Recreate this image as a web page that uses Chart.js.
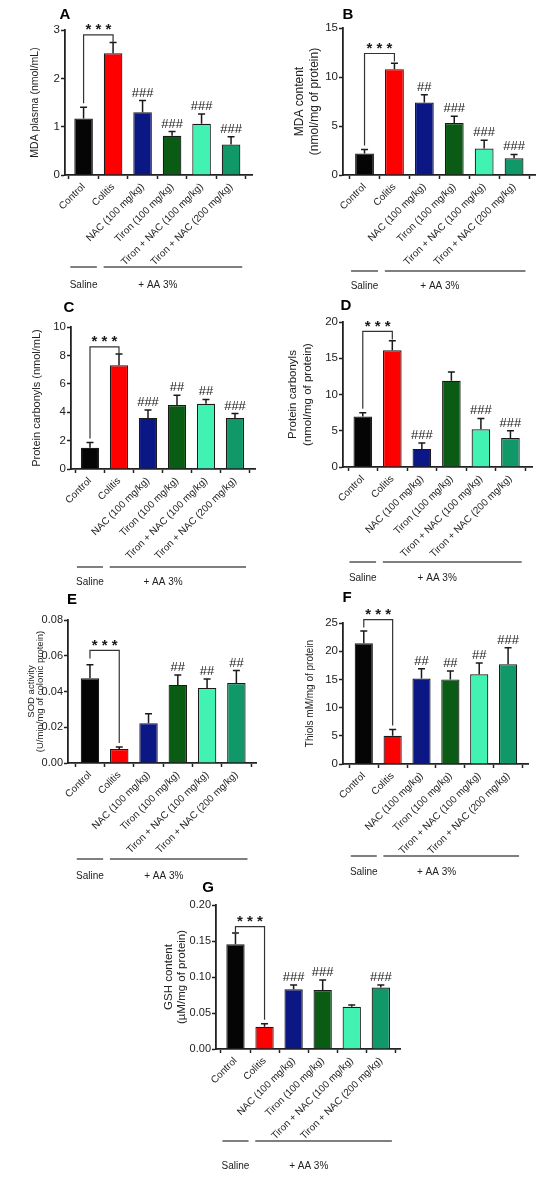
<!DOCTYPE html>
<html><head><meta charset="utf-8">
<script src="https://cdn.jsdelivr.net/npm/chart.js@4.4.1/dist/chart.umd.min.js"></script>
<style>
html,body{margin:0;padding:0;background:#fff;}
body{width:550px;height:1178px;position:relative;overflow:hidden;}
canvas{position:absolute;}
</style></head><body>
<canvas id="cA"></canvas><canvas id="cB"></canvas><canvas id="cC"></canvas><canvas id="cD"></canvas>
<canvas id="cE"></canvas><canvas id="cF"></canvas><canvas id="cG"></canvas>
<script>
const categories = ['Control','Colitis','NAC (100 mg/kg)','Tiron (100 mg/kg)','Tiron + NAC (100 mg/kg)','Tiron + NAC (200 mg/kg)'];
const groupLabels = ['Saline','+ AA 3%'];
const panelLetters = ['A','B','C','D','E','F','G'];

// A: MDA plasma
const mdaPlasmaMean = [1.17, 2.52, 1.30, 0.81, 1.06, 0.63];
const mdaPlasmaSem  = [0.23, 0.22, 0.24, 0.09, 0.20, 0.16];
const mdaPlasmaMarks = ['', '', '###', '###', '###', '###'];
const mdaPlasmaTicks = [0, 1, 2, 3];
const mdaPlasmaBracket = 2.9;

// B: MDA content
const mdaContentMean = [2.2, 10.8, 7.4, 5.3, 2.7, 1.7];
const mdaContentSem  = [0.4, 0.6, 0.8, 0.7, 0.85, 0.4];
const mdaContentMarks = ['', '', '##', '###', '###', '###'];
const mdaContentTicks = [0, 5, 10, 15];
const mdaContentBracket = 12.4;

// C: Protein carbonyls (nmol/mL)
const pcPlasmaMean = [1.5, 7.3, 3.6, 4.5, 4.6, 3.6];
const pcPlasmaSem  = [0.37, 0.8, 0.55, 0.7, 0.3, 0.3];
const pcPlasmaMarks = ['', '', '###', '##', '##', '###'];
const pcPlasmaTicks = [0, 2, 4, 6, 8, 10];
const pcPlasmaBracket = 8.6;

// D: Protein carbonyls (nmol/mg of protein)
const pcTissueMean = [6.95, 16.1, 2.5, 11.9, 5.2, 4.0];
const pcTissueSem  = [0.55, 1.3, 0.8, 1.2, 1.5, 1.0];
const pcTissueMarks = ['', '', '###', '', '###', '###'];
const pcTissueTicks = [0, 5, 10, 15, 20];
const pcTissueBracket = 18.7;

// E: SOD activity
const sodMean = [0.0474, 0.0078, 0.0223, 0.0437, 0.0419, 0.0447];
const sodSem  = [0.0075, 0.0011, 0.0052, 0.0056, 0.0051, 0.0070];
const sodMarks = ['', '', '', '##', '##', '##'];
const sodTicks = [0, 0.02, 0.04, 0.06, 0.08];
const sodBracket = 0.063;

// F: Thiols
const thiolsMean = [21.4, 5.0, 15.15, 15.0, 15.9, 17.7];
const thiolsSem  = [2.2, 1.1, 1.75, 1.5, 2.0, 2.9];
const thiolsMarks = ['', '', '##', '##', '##', '###'];
const thiolsTicks = [0, 5, 10, 15, 20, 25];
const thiolsBracket = 25.6;

// G: GSH content
const gshMean = [0.1455, 0.031, 0.083, 0.082, 0.0587, 0.0855];
const gshSem  = [0.0155, 0.004, 0.006, 0.014, 0.0023, 0.0035];
const gshMarks = ['', '', '###', '###', '', '###'];
const gshTicks = [0, 0.05, 0.10, 0.15, 0.20];
const gshBracket = 0.17;

const barColors = ['#050505', '#ff0000', '#0b1784', '#0a5c14', '#42f2b2', '#119869'];
const FONT = "'Liberation Sans', Arial, sans-serif";

const panels = [
  {id:'cA', letter:panelLetters[0], mean:mdaPlasmaMean, sem:mdaPlasmaSem, marks:mdaPlasmaMarks, ticks:mdaPlasmaTicks, bracket:mdaPlasmaBracket, dec:0,
   title:'MDA plasma (nmol/mL)', tFont:10.5, tLH:1.2, tPad:28.7, tickFont:11.5,
   box:{x:0,y:0,w:275,h:290}, area:{l:65,t:30,r:252,b:175}, xmin:-0.63, xmax:5.71, groupY:267, labelY:285, lx:65, ly:15},
  {id:'cB', letter:panelLetters[1], mean:mdaContentMean, sem:mdaContentSem, marks:mdaContentMarks, ticks:mdaContentTicks, bracket:mdaContentBracket, dec:0,
   title:['MDA content','(nmol/mg of protein)'], tFont:12, tLH:1.25, tPad:17.5, tickFont:11.5,
   box:{x:275,y:0,w:275,h:290}, area:{l:68,t:28,r:260,b:175}, xmin:-0.72, xmax:5.70, groupY:271, labelY:286, lx:73, ly:15},
  {id:'cC', letter:panelLetters[2], mean:pcPlasmaMean, sem:pcPlasmaSem, marks:pcPlasmaMarks, ticks:pcPlasmaTicks, bracket:pcPlasmaBracket, dec:0,
   title:'Protein carbonyls (nmol/mL)', tFont:11, tLH:1.2, tPad:30.4, tickFont:11.5,
   box:{x:0,y:290,w:275,h:300}, area:{l:71,t:37,r:255,b:179}, xmin:-0.655, xmax:5.69, groupY:277, labelY:292, lx:69, ly:18},
  {id:'cD', letter:panelLetters[3], mean:pcTissueMean, sem:pcTissueSem, marks:pcTissueMarks, ticks:pcTissueTicks, bracket:pcTissueBracket, dec:0,
   title:['Protein carbonyls','(nmol/mg of protein)'], tFont:11.5, tLH:1.3, tPad:10.5, tickFont:11.5,
   box:{x:275,y:290,w:275,h:300}, area:{l:68,t:32,r:257,b:177}, xmin:-0.67, xmax:5.73, groupY:272, labelY:288, lx:71, ly:16},
  {id:'cE', letter:panelLetters[4], mean:sodMean, sem:sodSem, marks:sodMarks, ticks:sodTicks, bracket:sodBracket, dec:2,
   title:['SOD activity','(U/min/mg of colonic protein)'], tFont:9.5, tLH:1.0, tPad:26.5, tickFont:11,
   box:{x:0,y:585,w:275,h:300}, area:{l:68,t:35,r:256,b:178}, xmin:-0.75, xmax:5.67, groupY:274, labelY:291, lx:72, ly:15},
  {id:'cF', letter:panelLetters[5], mean:thiolsMean, sem:thiolsSem, marks:thiolsMarks, ticks:thiolsTicks, bracket:thiolsBracket, dec:0,
   title:'Thiols mM/mg of protein', tFont:10, tLH:1.2, tPad:29, tickFont:11.5,
   box:{x:275,y:585,w:275,h:300}, area:{l:68,t:38,r:253,b:179}, xmin:-0.72, xmax:5.69, groupY:271, labelY:287, lx:72, ly:13},
  {id:'cG', letter:panelLetters[6], mean:gshMean, sem:gshSem, marks:gshMarks, ticks:gshTicks, bracket:gshBracket, dec:2,
   title:['GSH content','(\u00B5M/mg of protein)'], tFont:11.5, tLH:1.13, tPad:22.5, tickFont:11,
   box:{x:140,y:880,w:275,h:298}, area:{l:76,t:25,r:260,b:169}, xmin:-0.67, xmax:5.66, groupY:261, labelY:286, lx:68, ly:8}
];

function extras(p) {
  return {
    id: 'extras' + p.id,
    afterDatasetsDraw(chart) {
      const ctx = chart.ctx, xs = chart.scales.x, ys = chart.scales.y;
      ctx.save();
      const tops = [];
      ctx.strokeStyle = '#1a1a1a'; ctx.lineWidth = 1.5;
      p.mean.forEach((m, i) => {
        const xc = xs.getPixelForValue(i), y1 = ys.getPixelForValue(m), y2 = ys.getPixelForValue(m + p.sem[i]);
        tops.push(y2);
        ctx.beginPath(); ctx.moveTo(xc, y1); ctx.lineTo(xc, y2);
        ctx.moveTo(xc - 3.5, y2); ctx.lineTo(xc + 3.5, y2); ctx.stroke();
      });
      ctx.fillStyle = '#1a1a1a';
      ctx.font = '13px ' + FONT; ctx.textAlign = 'center'; ctx.textBaseline = 'alphabetic';
      p.marks.forEach((t, i) => { if (t) ctx.fillText(t, xs.getPixelForValue(i), tops[i] - 4); });
      // bracket Control vs Colitis
      const by = ys.getPixelForValue(p.bracket);
      const x0 = xs.getPixelForValue(0), x1 = xs.getPixelForValue(1);
      let l0 = tops[0] - 4, l1 = tops[1] - 4;
      if (tops[0] < tops[1]) l0 = by + 8; else l1 = by + 8;
      ctx.strokeStyle = '#333'; ctx.lineWidth = 1.2;
      ctx.beginPath(); ctx.moveTo(x0, l0); ctx.lineTo(x0, by); ctx.lineTo(x1, by); ctx.lineTo(x1, l1); ctx.stroke();
      ctx.font = 'bold 15px ' + FONT;
      ctx.fillText('* * *', (x0 + x1) / 2, by - 0.5);
      // group lines
      const cw = x1 - x0, c5 = xs.getPixelForValue(5);
      ctx.strokeStyle = '#555'; ctx.lineWidth = 1.5;
      ctx.beginPath();
      ctx.moveTo(x0 - 0.45 * cw, p.groupY); ctx.lineTo(x0 + 0.45 * cw, p.groupY);
      ctx.moveTo(x1 - 0.32 * cw, p.groupY); ctx.lineTo(c5 + 0.38 * cw, p.groupY);
      ctx.stroke();
      ctx.fillStyle = '#222';
      ctx.font = '10px ' + FONT; ctx.textBaseline = 'middle';
      ctx.fillText(groupLabels[0], x0, p.labelY);
      ctx.fillText(groupLabels[1], x1 + 0.38 * (c5 - x1), p.labelY);
      // panel letter
      ctx.fillStyle = '#000';
      ctx.font = 'bold 15px ' + FONT;
      ctx.fillText(p.letter, p.lx, p.ly);
      ctx.restore();
    }
  };
}

function makeChart(p) {
  const cv = document.getElementById(p.id);
  cv.width = p.box.w; cv.height = p.box.h;
  cv.style.left = p.box.x + 'px'; cv.style.top = p.box.y + 'px';
  cv.style.width = p.box.w + 'px'; cv.style.height = p.box.h + 'px';
  const a = p.area;
  new Chart(cv, {
    type: 'bar',
    data: {
      datasets: [{
        data: p.mean.map((v, i) => ({x: i, y: v})),
        backgroundColor: barColors, borderColor: '#1a1a1a', borderWidth: 1.2,
        barPercentage: 0.63, categoryPercentage: 1
      }]
    },
    options: {
      responsive: false, animation: false,
      layout: {padding: {left: 0, top: a.t, right: p.box.w - a.r, bottom: 0}},
      plugins: {legend: {display: false}, tooltip: {enabled: false}},
      scales: {
        x: {
          type: 'linear', min: p.xmin, max: p.xmax, offset: false,
          afterBuildTicks: s => { s.ticks = categories.map((c, i) => ({value: i})); },
          afterFit: s => { s.height = p.box.h - a.b; },
          ticks: {callback: v => categories[v], autoSkip: false, minRotation: 45, maxRotation: 45,
                  font: {family: FONT, size: 10}, color: '#222', padding: 2},
          grid: {drawOnChartArea: false, drawTicks: true, tickLength: 4, tickWidth: 1.5, tickColor: '#222'},
          border: {display: true, color: '#222', width: 1.8}
        },
        y: {
          min: 0, max: p.ticks[p.ticks.length - 1],
          afterBuildTicks: s => { s.ticks = p.ticks.map(v => ({value: v})); },
          afterFit: s => { s.width = a.l; },
          ticks: {callback: v => Number(v).toFixed(p.dec), font: {family: FONT, size: p.tickFont}, color: '#222', padding: 1},
          grid: {drawOnChartArea: false, drawTicks: true, tickLength: 4, tickWidth: 1.5, tickColor: '#222'},
          border: {display: true, color: '#222', width: 1.8},
          title: {display: true, text: p.title, font: {family: FONT, size: p.tFont, lineHeight: p.tLH}, color: '#222',
                  padding: {top: p.tPad, bottom: 0}}
        }
      }
    },
    plugins: [extras(p)]
  });
}
panels.forEach(makeChart);
</script>
</body></html>
